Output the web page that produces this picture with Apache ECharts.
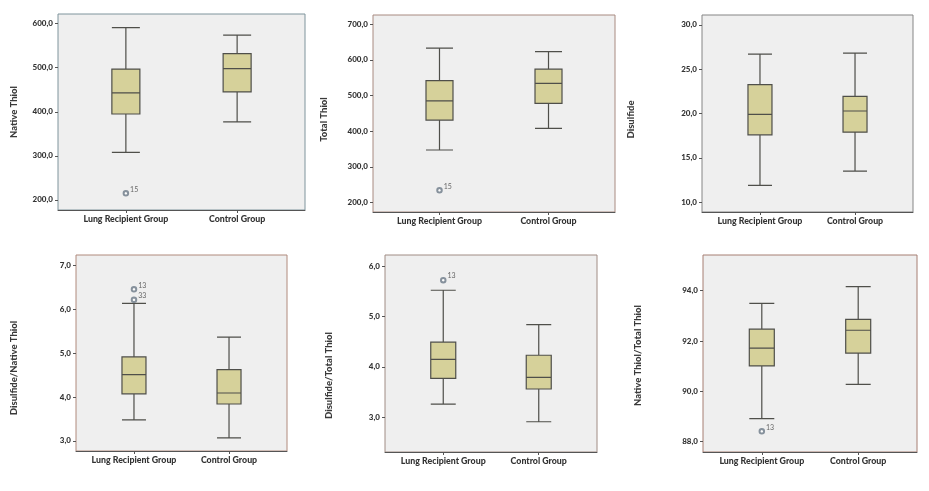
<!DOCTYPE html>
<html>
<head>
<meta charset="utf-8">
<script src="https://cdn.jsdelivr.net/npm/echarts@6/dist/echarts.min.js"></script>
<style>
  html, body { margin: 0; padding: 0; background: #fff; }
  #main { width: 929px; height: 491px; }
</style>
</head>
<body>
<div id="main"></div>
<script>
// groups on the x axis
const groups = ['Lung Recipient Group', 'Control Group'];
const panelNames = ['Native Thiol', 'Total Thiol', 'Disulfide',
  'Disulfide/Native Thiol', 'Disulfide/Total Thiol', 'Native Thiol/Total Thiol'];

// [min, Q1, median, Q3, max] for each group
const nativeThiol = [[308, 395, 443, 497, 591], [377, 445, 498, 532, 574]];
const totalThiol = [[347, 431, 485, 542, 633], [408, 478, 534, 574, 623]];
const disulfide = [[11.9, 17.6, 19.9, 23.26, 26.7], [13.5, 17.9, 20.28, 21.94, 26.8]];
const disNative = [[3.48, 4.07, 4.51, 4.91, 6.13], [3.07, 3.84, 4.09, 4.62, 5.36]];
const disTotal = [[3.26, 3.77, 4.15, 4.49, 5.52], [2.91, 3.56, 3.79, 4.23, 4.84]];
const nativeTotal = [[88.92, 91.01, 91.72, 92.47, 93.5], [90.28, 91.52, 92.43, 92.86, 94.16]];

// outliers: [group index, value, case number]
const nativeThiolOut = [[0, 215, '15']];
const totalThiolOut = [[0, 234, '15']];
const disulfideOut = [];
const disNativeOut = [[0, 6.45, '13'], [0, 6.21, '33']];
const disTotalOut = [[0, 5.72, '13']];
const nativeTotalOut = [[0, 88.41, '13']];

// tick labels on the y axes
const nativeThiolTicks = [200, 300, 400, 500, 600];
const totalThiolTicks = [200, 300, 400, 500, 600, 700];
const disulfideTicks = [10, 15, 20, 25, 30];
const disNativeTicks = [3, 4, 5, 6, 7];
const disTotalTicks = [3, 4, 5, 6];
const nativeTotalTicks = [88, 90, 92, 94];

const boxes = [nativeThiol, totalThiol, disulfide, disNative, disTotal, nativeTotal];
const outliers = [nativeThiolOut, totalThiolOut, disulfideOut, disNativeOut, disTotalOut, nativeTotalOut];
const ticks = [nativeThiolTicks, totalThiolTicks, disulfideTicks, disNativeTicks, disTotalTicks, nativeTotalTicks];

// layout of the six panels
const panels = [
  { left: 58, top: 14, width: 247, height: 196, yMin: 177, yMax: 622, box: 28, gap: 39, shift: 0, frame: '#7f949c' },
  { left: 373, top: 15, width: 242, height: 197, yMin: 173, yMax: 726, box: 27, gap: 44, shift: 12, frame: '#a88a80' },
  { left: 702, top: 15, width: 211, height: 197, yMin: 8.9, yMax: 31.1, box: 24, gap: 66, shift: 12, frame: '#858585' },
  { left: 76, top: 255, width: 211, height: 196, yMin: 2.77, yMax: 7.23, box: 24, gap: 57, shift: 30, frame: '#b08a7c' },
  { left: 385, top: 255, width: 212, height: 197, yMin: 2.31, yMax: 6.22, box: 25, gap: 51, shift: 44, frame: '#a08c84' },
  { left: 703, top: 255, width: 214, height: 197, yMin: 87.59, yMax: 95.42, box: 25, gap: 60, shift: 4, frame: '#a67e72' }
];

const font = 'Lato';
const chartDom = document.getElementById('main');
const myChart = echarts.init(chartDom);
let option;

const grid = [], xAxis = [], yAxis = [], series = [];
panels.forEach(function (p, i) {
  grid.push({
    left: p.left, top: p.top, width: p.width, height: p.height,
    show: true, backgroundColor: '#efefef', borderColor: p.frame, borderWidth: 1
  });
  xAxis.push({
    gridIndex: i, type: 'value', min: -0.61, max: 1.61,
    splitLine: { show: false },
    axisLine: { show: true, onZero: false, lineStyle: { color: '#555' } },
    axisTick: { show: true, length: 3, customValues: [0, 1], lineStyle: { color: '#555' } },
    axisLabel: {
      customValues: [0, 1], margin: 5,
      formatter: function (v) { return groups[Math.round(v)]; },
      fontFamily: font, fontWeight: 900, fontSize: 8.8, color: '#333'
    }
  });
  yAxis.push({
    gridIndex: i, type: 'value', min: p.yMin, max: p.yMax,
    name: panelNames[i], nameLocation: 'middle', nameGap: p.gap,
    nameTextStyle: { fontFamily: font, fontWeight: 900, fontSize: 9.5, color: '#3a3a3a', padding: [0, p.shift, 0, 0] },
    splitLine: { show: false },
    axisLine: { show: false, onZero: false },
    axisTick: { show: true, length: 3, customValues: ticks[i], lineStyle: { color: '#555' } },
    axisLabel: {
      customValues: ticks[i], margin: 5,
      formatter: function (v) { return v.toFixed(1).replace('.', ','); },
      fontFamily: font, fontWeight: 900, fontSize: 8, color: '#333'
    }
  });
  series.push({
    type: 'boxplot', xAxisIndex: i, yAxisIndex: i,
    boxWidth: [p.box, p.box],
    itemStyle: { color: '#d6d19a', borderColor: '#4f4f4a', borderWidth: 1.2 },
    data: boxes[i].map(function (b, g) { return [g].concat(b); })
  });
  series.push({
    type: 'scatter', xAxisIndex: i, yAxisIndex: i,
    symbol: 'emptyCircle', symbolSize: 4.5,
    itemStyle: { color: '#6a7886', borderWidth: 0.7 },
    label: {
      show: true, position: 'right', distance: 1, offset: [0, -4],
      formatter: function (d) { return d.data[2]; },
      fontFamily: font, fontSize: 7, color: '#444'
    },
    data: outliers[i]
  });
});

option = {
  backgroundColor: '#fff',
  animation: false,
  grid: grid,
  xAxis: xAxis,
  yAxis: yAxis,
  series: series
};

myChart.setOption(option);
</script>
</body>
</html>
